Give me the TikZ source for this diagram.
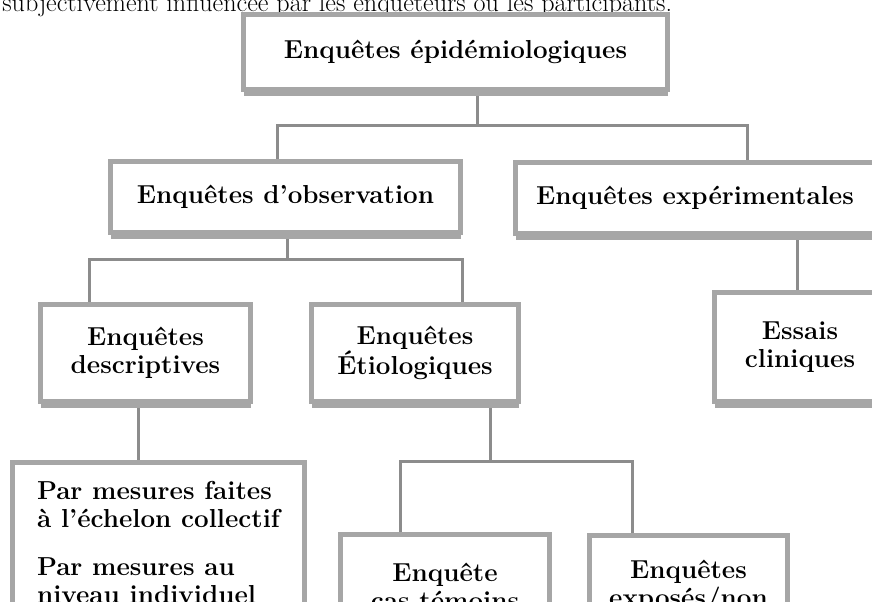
\documentclass[tikz,border=0pt]{standalone}
\usetikzlibrary{shadows,backgrounds}

\definecolor{boxgray}{gray}{0.65}
\definecolor{linkgray}{gray}{0.55}

\begin{document}
\begin{tikzpicture}[x=0.75pt,y=-0.75pt,
  box/.style={draw=boxgray,line width=3.75pt,fill=white,align=center,inner sep=0pt,
    font=\fontsize{19.5}{21}\selectfont\bfseries,
    drop shadow={shadow xshift=0pt,shadow yshift=-4.5pt,opacity=1,fill=boxgray}},
  link/.style={draw=linkgray,line width=2.25pt}]
  \useasboundingbox (0,0) rectangle (872,601);
  \clip (0,0) rectangle (872,601);

  \node[anchor=base west,inner sep=0pt,font=\fontsize{19.6}{21}\selectfont] (prev) at (2,11)
    {subjectivement influencée par les enquêteurs ou les participants.};

  \path
  node[box,minimum width=318pt,minimum height=56.25pt] (epi) at (455.5,52) {Enquêtes épidémiologiques}
  node[box,minimum width=262.5pt,minimum height=53.25pt] (obs) at (285.5,197) {Enquêtes d'observation}
  node[box,minimum width=269.25pt,minimum height=53.25pt] (exp) at (695,198) {Enquêtes expérimentales}
  node[box,minimum width=157.5pt,minimum height=72.75pt] (desc) at (145.5,353) {Enquêtes\\descriptives}
  node[box,minimum width=155.25pt,minimum height=72.75pt] (etio) at (415,353) {Enquêtes\\Étiologiques}
  node[box,minimum width=128.25pt,minimum height=81.75pt] (essais) at (800,347) {Essais\\cliniques}
  node[box,align=left,minimum width=219pt,minimum height=119.25pt] (mes) at (158.5,542)
    {Par mesures faites\\à l'échelon collectif\\[15pt]Par mesures au\\niveau individuel}
  node[box,minimum width=156.75pt,minimum height=77.25pt] (cas) at (445,586) {Enquête\\cas témoins}
  node[box,minimum width=148.5pt,minimum height=75.75pt] (expo) at (688.5,586) {Enquêtes\\exposés/non}
  ;

  % junctions of the elbow links
  \coordinate (t0) at (477,125);
  \coordinate (tl) at (277,125);
  \coordinate (tr) at (747,125);
  \coordinate (o0) at (287,259);
  \coordinate (ol) at (89,259);
  \coordinate (or) at (462,259);
  \coordinate (e0) at (490,461);
  \coordinate (el) at (400,461);
  \coordinate (er) at (632,461);

  \begin{scope}[on background layer]
  \path[link]
  (epi.south -| t0) -- (t0)
  (obs.north -| tl) -- (tl) -- (tr) -- (exp.north -| tr)

  (obs.south -| o0) -- (o0)
  (desc.north -| ol) -- (ol) -- (or) -- (etio.north -| or)

  (exp.south -| 797,0) -- (essais.north -| 797,0)
  (desc.south -| 138,0) -- (mes.north -| 138,0)

  (etio.south -| e0) -- (e0)
  (cas.north -| el) -- (el) -- (er) -- (expo.north -| er)
  ;
  \end{scope}
\end{tikzpicture}
\end{document}
